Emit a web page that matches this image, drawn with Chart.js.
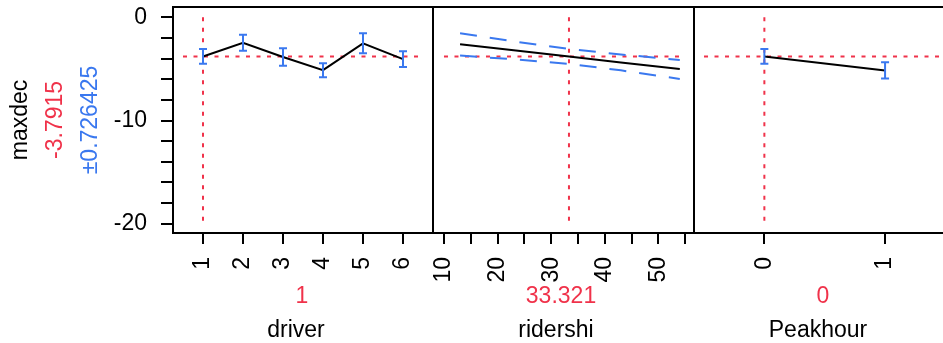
<!DOCTYPE html>
<html>
<head>
<meta charset="utf-8">
<script src="https://cdn.jsdelivr.net/npm/chart.js@4.4.1/dist/chart.umd.min.js"></script>
<style>
  html, body { margin: 0; padding: 0; background: #fff; overflow: hidden; }
  #wrap { position: relative; width: 943px; height: 343px; }
  #wrap canvas { position: absolute; left: 0; top: 0; }
</style>
</head>
<body>
<div id="wrap">
  <canvas id="driverChart" width="943" height="343"></canvas>
  <canvas id="riderChart" width="943" height="343"></canvas>
  <canvas id="peakChart" width="943" height="343"></canvas>
</div>
<script>
// response
const yTitle = 'maxdec';
const currentValue = -3.7915;
const currentErrorText = '±0.726425';
const yTicks = [0, -2, -4, -6, -8, -10, -12, -14, -16, -18, -20];
const yLabeled = [0, -10, -20];

// factors
const factorNames = ['driver', 'ridershi', 'Peakhour'];
const factorSettingText = ['1', '33.321', '0'];
const factorSettings = [1, 33.321, 0];

// driver (categorical levels)
const driverLevels = [1, 2, 3, 4, 5, 6];
const driverPred = [-3.79, -2.47, -3.85, -5.12, -2.52, -4.05];
const driverErr = [0.72, 0.77, 0.85, 0.68, 0.97, 0.76];
const driverTicks = [1, 2, 3, 4, 5, 6];

// ridershi (continuous, with confidence band)
const riderX = [13, 23, 33.321, 43, 54];
const riderPred = [-2.61, -3.20, -3.79, -4.38, -5.00];
const riderUpper = [-1.55, -2.33, -3.06, -3.60, -4.13];
const riderLower = [-3.70, -4.07, -4.52, -5.14, -5.97];
const riderTicks = [10, 15, 20, 25, 30, 35, 40, 45, 50, 55];
const riderLabeled = [10, 20, 30, 40, 50];

// Peakhour (two levels)
const peakLevels = [0, 1];
const peakPred = [-3.79, -5.15];
const peakErr = [0.72, 0.79];
const peakTicks = [0, 1];

const FONT = "'Liberation Sans', Arial, sans-serif";
const FONT_SIZE = 23;
const RED = '#f0324a';
const BLUE = '#3a78ef';

function pts(xs, ys) {
    return xs.map((x, i) => ({ x: x, y: ys[i] }));
}

function noPadding(s) {
    s.paddingTop = 0;
    s.paddingBottom = 0;
    s.paddingLeft = 0;
    s.paddingRight = 0;
}

const profilerPlugin = {
    id: 'profiler',
    afterDatasetsDraw(chart, args, opts) {
        if (!opts.err) return;
        const ctx = chart.ctx;
        const xs = chart.scales.x, ys = chart.scales.y;
        ctx.save();
        ctx.strokeStyle = BLUE;
        ctx.lineWidth = 2;
        opts.levels.forEach((lv, i) => {
            const px = xs.getPixelForValue(lv);
            const top = ys.getPixelForValue(opts.pred[i] + opts.err[i]);
            const bot = ys.getPixelForValue(opts.pred[i] - opts.err[i]);
            ctx.beginPath();
            ctx.moveTo(px, top); ctx.lineTo(px, bot);
            ctx.moveTo(px - 4, top); ctx.lineTo(px + 4, top);
            ctx.moveTo(px - 4, bot); ctx.lineTo(px + 4, bot);
            ctx.stroke();
        });
        ctx.restore();
    },
    afterDraw(chart, args, opts) {
        const ctx = chart.ctx;
        const a = chart.chartArea;
        ctx.save();
        ctx.strokeStyle = '#000';
        ctx.lineWidth = 2;
        ctx.beginPath();
        ctx.moveTo(a.left - 1, a.top); ctx.lineTo(a.right + 1, a.top);
        ctx.moveTo(a.left - 1, a.bottom); ctx.lineTo(a.right + 1, a.bottom);
        ctx.moveTo(a.left, a.top); ctx.lineTo(a.left, a.bottom);
        if (opts.rightBorder) {
            ctx.moveTo(a.right, a.top); ctx.lineTo(a.right, a.bottom);
        }
        ctx.stroke();

        ctx.font = FONT_SIZE + 'px ' + FONT;
        ctx.textAlign = 'center';
        ctx.textBaseline = 'alphabetic';
        ctx.fillStyle = RED;
        ctx.fillText(opts.settingText, opts.settingX, 303);
        ctx.fillStyle = '#000';
        ctx.fillText(opts.name, opts.nameX, 337);

        if (opts.yTitle) {
            const cy = 120;
            const lines = [[yTitle, '#000', 27], [String(currentValue), RED, 62], [currentErrorText, BLUE, 97]];
            lines.forEach(([txt, col, bx]) => {
                ctx.save();
                ctx.translate(bx, cy);
                ctx.rotate(-Math.PI / 2);
                ctx.fillStyle = col;
                ctx.fillText(txt, 0, 0);
                ctx.restore();
            });
        }
        ctx.restore();
    }
};

function makePanel(p) {
    const datasets = [{
        data: pts(p.xs, p.pred),
        borderColor: '#000',
        borderWidth: 2
    }];
    (p.bands || []).forEach(band => {
        datasets.push({
            data: pts(p.xs, band),
            borderColor: BLUE,
            borderWidth: 2,
            borderDash: [17, 13]
        });
    });
    datasets.push({
        data: [{ x: p.refRange[0], y: currentValue }, { x: p.refRange[1], y: currentValue }],
        borderColor: RED,
        borderWidth: 2,
        borderDash: [4, 6.5]
    });
    datasets.push({
        data: [{ x: p.setting, y: 0 }, { x: p.setting, y: -20 }],
        borderColor: RED,
        borderWidth: 2,
        borderDash: [4, 6.5]
    });

    const config = {
        type: 'line',
        data: { datasets: datasets },
        options: {
            responsive: false,
            animation: false,
            layout: { padding: { left: p.padLeft, right: p.padRight, top: 7, bottom: 0 } },
            elements: { point: { radius: 0 }, line: { tension: 0, fill: false } },
            scales: {
                x: {
                    type: 'linear',
                    min: p.min,
                    max: p.max,
                    afterBuildTicks: s => { s.ticks = p.ticks.map(v => ({ value: v })); },
                    afterFit: s => { s.height = 110; noPadding(s); },
                    border: { display: false },
                    grid: { display: true, drawOnChartArea: false, drawTicks: true, tickLength: 11, color: '#000', lineWidth: 2 },
                    ticks: {
                        autoSkip: false,
                        minRotation: 90,
                        maxRotation: 90,
                        padding: 13,
                        color: '#000',
                        font: { family: FONT, size: FONT_SIZE },
                        callback: v => (p.labeled.indexOf(v) >= 0 ? String(v) : '')
                    }
                },
                y: {
                    display: p.showY,
                    min: -20.9,
                    max: 1.0,
                    afterBuildTicks: s => { s.ticks = yTicks.map(v => ({ value: v })); },
                    afterFit: s => { s.width = p.showY ? 173 : 0; noPadding(s); },
                    border: { display: false },
                    grid: { display: true, drawOnChartArea: false, drawTicks: true, tickLength: 12, color: '#000', lineWidth: 2 },
                    ticks: {
                        autoSkip: false,
                        padding: 14,
                        color: '#000',
                        font: { family: FONT, size: FONT_SIZE },
                        callback: v => (yLabeled.indexOf(v) >= 0 ? String(v) : '')
                    }
                }
            },
            plugins: {
                legend: { display: false },
                tooltip: { enabled: false },
                profiler: {
                    err: p.err,
                    levels: p.xs,
                    pred: p.pred,
                    rightBorder: p.rightBorder,
                    name: p.name,
                    nameX: p.nameX,
                    settingText: p.settingText,
                    settingX: p.settingX,
                    yTitle: p.showY
                }
            }
        },
        plugins: [profilerPlugin]
    };
    return new Chart(document.getElementById(p.id).getContext('2d'), config);
}

makePanel({
    id: 'driverChart', xs: driverLevels, pred: driverPred, err: driverErr,
    ticks: driverTicks, labeled: driverTicks, min: 0.25, max: 6.75,
    refRange: [0.5, 6.5], setting: factorSettings[0],
    name: factorNames[0], settingText: factorSettingText[0], nameX: 296, settingX: 302,
    padLeft: 0, padRight: 510, showY: true, rightBorder: true
});

makePanel({
    id: 'riderChart', xs: riderX, pred: riderPred, bands: [riderUpper, riderLower],
    ticks: riderTicks, labeled: riderLabeled, min: 7.95, max: 56.65,
    refRange: [10, 54.5], setting: factorSettings[1],
    name: factorNames[1], settingText: factorSettingText[1], nameX: 556, settingX: 561,
    padLeft: 433, padRight: 249, showY: false, rightBorder: true
});

makePanel({
    id: 'peakChart', xs: peakLevels, pred: peakPred, err: peakErr,
    ticks: peakTicks, labeled: peakTicks, min: -0.583, max: 1.48,
    refRange: [-0.5, 1.5], setting: factorSettings[2],
    name: factorNames[2], settingText: factorSettingText[2], nameX: 818, settingX: 823,
    padLeft: 694, padRight: 0, showY: false, rightBorder: false
});
</script>
</body>
</html>
